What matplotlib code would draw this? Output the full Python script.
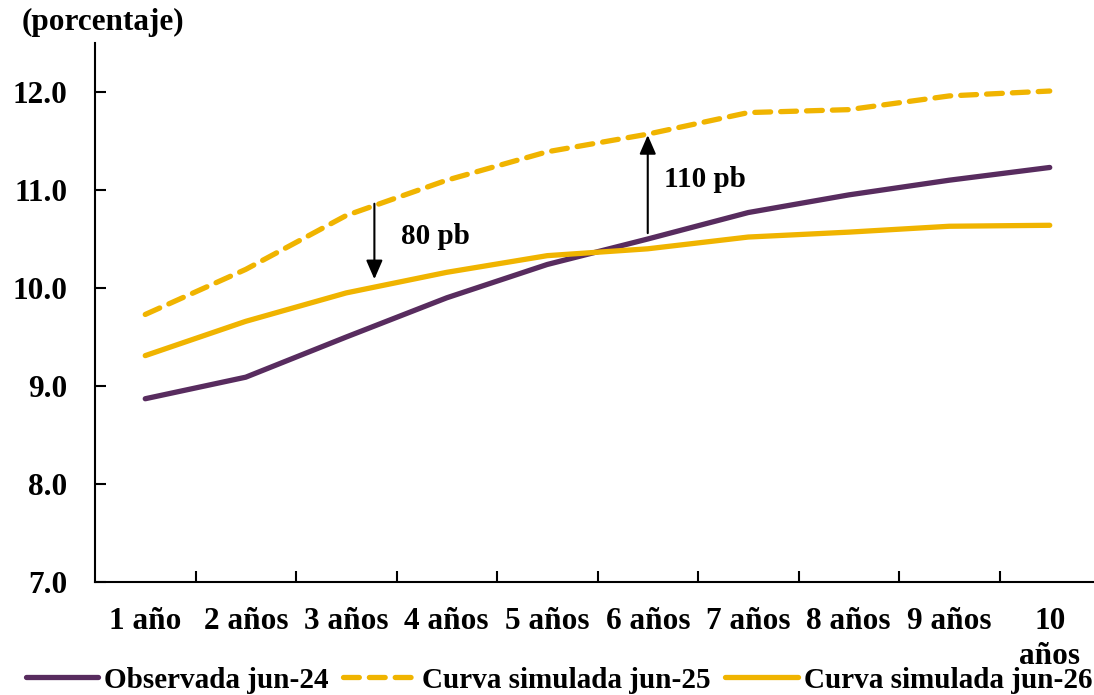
import matplotlib.pyplot as plt

# plazos y curvas (porcentaje)
plazos = ['1 año', '2 años', '3 años', '4 años', '5 años', '6 años',
          '7 años', '8 años', '9 años', '10\naños']
observada = [8.87, 9.09, 9.50, 9.90, 10.24, 10.50, 10.77, 10.95, 11.10, 11.23]
sim_jun25 = [9.73, 10.19, 10.74, 11.10, 11.39, 11.57, 11.79, 11.82, 11.96, 12.01]
sim_jun26 = [9.31, 9.66, 9.95, 10.16, 10.33, 10.40, 10.52, 10.57, 10.63, 10.64]

# flechas: (posicion en x, desde, hasta, texto)
flechas = [(2.28, 10.86, 10.09, '80 pb'), (5.0, 10.56, 11.56, '110 pb')]
texto_dx = [0.26, 0.16]

plt.rcParams['font.family'] = ['Liberation Serif', 'DejaVu Serif']
plt.rcParams['font.weight'] = 'bold'

morado = '#582c5f'
dorado = '#f0b400'

fig = plt.figure(figsize=(10.94, 6.95), dpi=100)
ax = fig.add_axes([95 / 1094, 1 - 582 / 695, 1005 / 1094, 539 / 695])

x = list(range(len(plazos)))
ax.plot(x, observada, color=morado, lw=3.8, solid_capstyle='round', label='Observada jun-24')
ax.plot(x, sim_jun25, color=dorado, lw=3.8, ls=(0, (3.0, 1.9)), dash_capstyle='round',
        label='Curva simulada jun-25')
ax.plot(x, sim_jun26, color=dorado, lw=3.8, solid_capstyle='round', label='Curva simulada jun-26')

for (xa, y0, y1, txt), dx in zip(flechas, texto_dx):
    ax.annotate('', xy=(xa, y1), xytext=(xa, y0),
                arrowprops=dict(arrowstyle='-|>,head_length=1.15,head_width=0.5', color='black', lw=1.5,
                                shrinkA=0, shrinkB=0))
    ax.text(xa + dx, (y0 + y1) / 2 + 0.05, txt, fontsize=21, fontweight='bold', va='center', ha='left')

ax.set_xlim(-0.5, 9.5)
ax.set_ylim(7.0, 12.5)
ax.set_yticks([7, 8, 9, 10, 11, 12])
ax.set_yticklabels([f'{v:.1f}' for v in [7, 8, 9, 10, 11, 12]])
ax.set_xticks([i + 0.5 for i in range(9)])
ax.set_xticklabels([])
ax.set_xticks(x, minor=True)
ax.set_xticklabels(plazos, minor=True, va='top', ha='center', linespacing=1.25)
ax.tick_params(axis='x', which='minor', length=0, pad=18, labelsize=22.5)
ax.tick_params(axis='x', which='major', direction='in', length=8, width=1.5)
ax.tick_params(axis='y', direction='in', length=8, width=1.5, pad=20, labelsize=22.5)

for s in ['top', 'right']:
    ax.spines[s].set_visible(False)
ax.spines['left'].set_linewidth(1.5)
ax.spines['bottom'].set_linewidth(1.5)

fig.text(22 / 1094, 1 - 22 / 695, '(porcentaje)', fontsize=22.5, fontweight='bold', va='center', ha='left')

fig.legend(loc='center', bbox_to_anchor=(0.511, 1 - 680 / 695), ncol=3, frameon=False,
           fontsize=21, handlelength=2.5, handletextpad=0.2, columnspacing=0.5, borderaxespad=0)

fig.savefig('out.png', dpi=100)
